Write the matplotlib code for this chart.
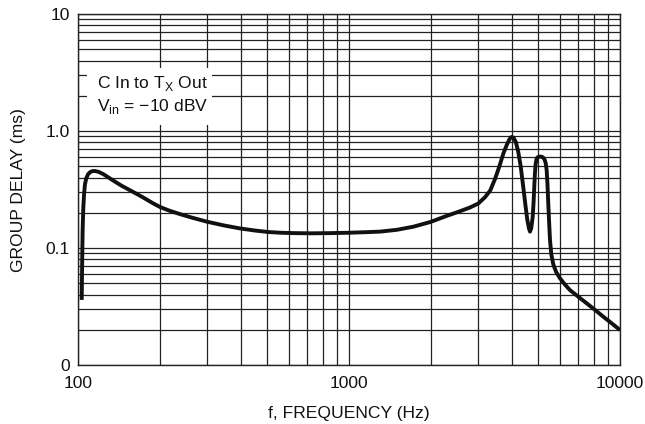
import matplotlib
matplotlib.use("Agg")
import matplotlib.pyplot as plt
from matplotlib.ticker import FixedLocator, NullFormatter

# ---- data ----
freq_hz = [103.2, 103.6, 104.0, 104.6, 105.3, 106.1, 107.3, 109.0, 111.0, 113.0, 115.5,
           119.0, 124.0, 131.0, 138.0, 145.0, 155.0, 164.7, 175.0, 188.0, 200.8,
           218.0, 237.7, 265.0, 298.5, 345.0, 396.0, 450.0, 503.0, 560.0, 630.0,
           720.0, 851.0, 1000.0, 1150.0, 1300.0, 1500.0, 1726.0, 2000.0, 2292.0,
           2550.0, 2796.0, 3000.0, 3177.0, 3320.0, 3459.0, 3590.0, 3710.0, 3820.0,
           3920.0, 3985.0, 4050.0, 4130.0, 4214.0, 4300.0, 4397.0, 4480.0, 4548.0,
           4610.0, 4655.0, 4705.0, 4763.0, 4800.0, 4827.0, 4855.0, 4882.0, 4920.0,
           4960.0, 5000.0, 5080.0, 5160.0, 5215.0, 5270.0, 5320.0, 5364.0, 5400.0,
           5436.0, 5480.0, 5517.0, 5580.0, 5677.0, 5820.0, 6010.0, 6250.0, 6535.0,
           7000.0, 7530.0, 8100.0, 8670.0, 9300.0, 10000.0]
delay_ms = [0.036, 0.075, 0.14, 0.22, 0.29, 0.35, 0.395, 0.428, 0.446, 0.454, 0.455,
            0.448, 0.428, 0.394, 0.365, 0.34, 0.313, 0.29, 0.268, 0.243, 0.224,
            0.208, 0.195, 0.181, 0.168, 0.156, 0.147, 0.141, 0.137, 0.135, 0.134,
            0.1335, 0.134, 0.135, 0.1365, 0.138, 0.143, 0.152, 0.167, 0.188,
            0.205, 0.222, 0.24, 0.272, 0.31, 0.39, 0.5, 0.64, 0.76,
            0.86, 0.89, 0.875, 0.8, 0.66, 0.5, 0.33, 0.23, 0.175,
            0.148, 0.138, 0.148, 0.185, 0.25, 0.334, 0.44, 0.52, 0.575,
            0.595, 0.60, 0.605, 0.6, 0.59, 0.57, 0.53, 0.46, 0.35,
            0.241, 0.16, 0.117, 0.088, 0.072, 0.062, 0.055, 0.049, 0.0437,
            0.0385, 0.0337, 0.0295, 0.0259, 0.0228, 0.0199]

x_ticks = [100, 1000, 10000]
x_tick_labels = ["100", "1000", "10000"]
y_ticks = [0.01, 0.1, 1.0, 10.0]
y_tick_labels = ["0", "0.1", "1.0", "10"]

fam = "Liberation Sans"
plt.rcParams["font.family"] = [fam, "DejaVu Sans"]
plt.rcParams["mathtext.fontset"] = "custom"
plt.rcParams["mathtext.rm"] = fam
fs = 12.6

fig = plt.figure(figsize=(6.45, 4.24), dpi=100)
W, H = 645, 424
L, R, T, B = 78, 620, 14, 365
ax = fig.add_axes([L / W, 1 - B / H, (R - L) / W, (B - T) / H])
ax.set_xscale("log")
ax.set_yscale("log")
ax.set_xlim(100, 10000)
ax.set_ylim(0.01, 10)

ax.xaxis.set_major_locator(FixedLocator(x_ticks))
ax.set_xticklabels(x_tick_labels)
ax.yaxis.set_major_locator(FixedLocator(y_ticks))
ax.set_yticklabels(y_tick_labels)
ax.xaxis.set_minor_formatter(NullFormatter())
ax.yaxis.set_minor_formatter(NullFormatter())
ax.tick_params(which="both", length=0, labelsize=fs, colors="#111111")
ax.tick_params(axis="x", pad=8)
ax.tick_params(axis="y", pad=6)

ax.grid(True, which="both", color="#222222", linewidth=0.9)
for s in ax.spines.values():
    s.set_color("#222222")
    s.set_linewidth(1.0)

ax.plot(freq_hz, delay_ms, color="#111111", linewidth=2.8, solid_capstyle="butt",
        solid_joinstyle="round", zorder=3)

ax.set_xlabel("f, FREQUENCY (Hz)", fontsize=fs, color="#111111", labelpad=11)
ax.set_ylabel("GROUP DELAY (ms)", fontsize=fs, color="#111111", labelpad=14)

# annotation box
fig.patches.append(plt.Rectangle((87 / W, 1 - 125 / H), (212 - 87) / W, (125 - 68) / H,
                                 transform=fig.transFigure, facecolor="white",
                                 edgecolor="none", zorder=5, figure=fig))
fig.text(97 / W, 1 - 74 / H, "C In to T$_\\mathregular{X}$ Out\nV$_\\mathregular{in}$ = \u221210 dBV",
         fontsize=fs, va="top", ha="left", color="#111111", zorder=6, linespacing=1.3)

fig.savefig("out.png", dpi=100)
